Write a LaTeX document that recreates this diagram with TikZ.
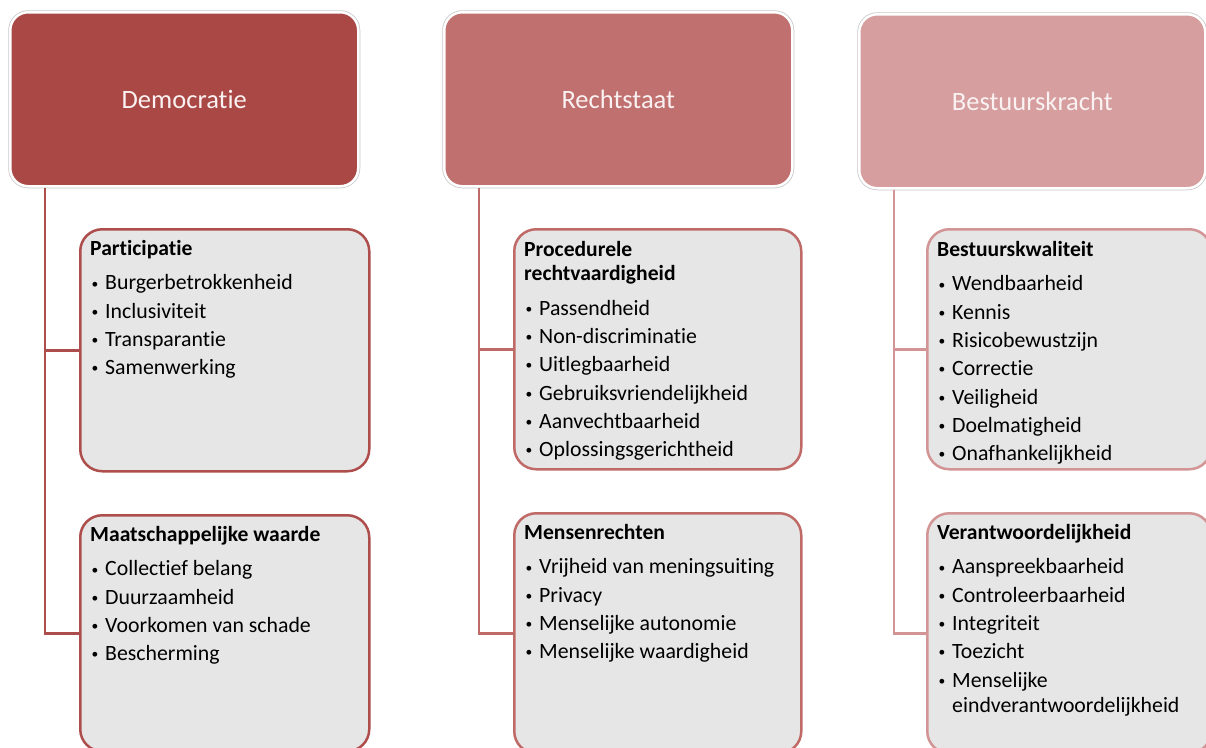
\documentclass[tikz,border=0pt]{standalone}
\usepackage{fontspec}
\setmainfont{Carlito}[Ligatures={NoCommon}]
\usetikzlibrary{calc}
\definecolor{cA}{RGB}{170,72,69}
\definecolor{cB}{RGB}{192,112,110}
\definecolor{cC}{RGB}{214,158,158}
\definecolor{lA}{RGB}{174,78,76}
\definecolor{lB}{RGB}{192,106,104}
\definecolor{lC}{RGB}{210,148,148}
\definecolor{boxgray}{RGB}{230,230,230}
\definecolor{titletxt}{RGB}{250,242,242}
\newcommand{\hdr}[1]{\fontsize{21.6}{24}\selectfont\bfseries #1}
\newcommand{\itm}{\hspace*{1.5pt}\makebox[13.5pt][l]{\raisebox{1.8pt}{\scalebox{0.62}{\textbullet}}}}
\newcommand{\cont}{\hspace*{15pt}}
\begin{document}
\begin{tikzpicture}[x=1pt,y=-1pt,
 topbox/.style={rectangle, rounded corners=18pt, minimum width=348pt, minimum height=174pt,
   anchor=north west, inner sep=0pt, draw=white, line width=2.5pt,
   preaction={draw=black!22, line width=4pt}, text=titletxt, font=\fontsize{26.5}{30}\selectfont},
 subbox/.style={rectangle, rounded corners=22pt, fill=boxgray, line width=2.5pt,
   anchor=north west, inner sep=0pt},
 txt/.style={anchor=base west, inner sep=0pt, font=\fontsize{21.8}{28.3}\selectfont},
 conn/.style={line width=2.5pt}]
\useasboundingbox (0,0) rectangle (1206,747);
\clip (0,0) rectangle (1206,747);

% top boxes
\node[topbox, fill=cA] (D) at (9,11) {Democratie};
\node[topbox, fill=cB] (R) at (443,11) {Rechtstaat};
\node[topbox, fill=cC, minimum width=346pt] (B) at (858,13) {Bestuurskracht};

% sub boxes
\node[subbox, draw=lA, minimum width=289pt, minimum height=242pt] (P1) at (79,228) {};
\node[subbox, draw=lA, minimum width=289pt, minimum height=236pt] (P2) at (79,514) {};
\node[subbox, draw=lB, minimum width=287pt, minimum height=240pt] (R1) at (513,228) {};
\node[subbox, draw=lB, minimum width=287pt, minimum height=240pt] (R2) at (513,512) {};
\node[subbox, draw=lC, minimum width=284pt, minimum height=240pt] (B1) at (926,228) {};
\node[subbox, draw=lC, minimum width=284pt, minimum height=240pt] (B2) at (926,512) {};

% connectors
\draw[conn, lA] ($(D.south west)+(36,0)$) |- (P1.west);
\draw[conn, lA] ($(D.south west)+(36,0)$) |- (P2.west);
\draw[conn, lB] ($(R.south west)+(36,0)$) |- (R1.west);
\draw[conn, lB] ($(R.south west)+(36,0)$) |- (R2.west);
\draw[conn, lC] ($(B.south west)+(36,0)$) |- (B1.west);
\draw[conn, lC] ($(B.south west)+(36,0)$) |- (B2.west);

% texts
\node[txt] (tP1) at (90,255) {\begin{tabular}[t]{@{}l@{}}
\hdr{Participatie}\\[6.5pt]
\itm Burgerbetrokkenheid\\
\itm Inclusiviteit\\
\itm Transparantie\\
\itm Samenwerking
\end{tabular}};
\node[txt] (tP2) at (90,541) {\begin{tabular}[t]{@{}l@{}}
\hdr{Maatschappelijke waarde}\\[6.5pt]
\itm Collectief belang\\
\itm Duurzaamheid\\
\itm Voorkomen van schade\\
\itm Bescherming
\end{tabular}};
\node[txt] (tR1) at (524,256) {\begin{tabular}[t]{@{}l@{}}
\hdr{Procedurele}\\[-4pt]
\hdr{rechtvaardigheid}\\[6.5pt]
\itm Passendheid\\
\itm Non-discriminatie\\
\itm Uitlegbaarheid\\
\itm Gebruiksvriendelijkheid\\
\itm Aanvechtbaarheid\\
\itm Oplossingsgerichtheid
\end{tabular}};
\node[txt] (tR2) at (524,539) {\begin{tabular}[t]{@{}l@{}}
\hdr{Mensenrechten}\\[6.5pt]
\itm Vrijheid van meningsuiting\\
\itm Privacy\\
\itm Menselijke autonomie\\
\itm Menselijke waardigheid
\end{tabular}};
\node[txt] (tB1) at (937,256) {\begin{tabular}[t]{@{}l@{}}
\hdr{Bestuurskwaliteit}\\[6.5pt]
\itm Wendbaarheid\\
\itm Kennis\\
\itm Risicobewustzijn\\
\itm Correctie\\
\itm Veiligheid\\
\itm Doelmatigheid\\
\itm Onafhankelijkheid
\end{tabular}};
\node[txt] (tB2) at (937,539) {\begin{tabular}[t]{@{}l@{}}
\hdr{Verantwoordelijkheid}\\[6.5pt]
\itm Aanspreekbaarheid\\
\itm Controleerbaarheid\\
\itm Integriteit\\
\itm Toezicht\\
\itm Menselijke\\[-3pt]
\cont eindverantwoordelijkheid
\end{tabular}};
\end{tikzpicture}
\end{document}
